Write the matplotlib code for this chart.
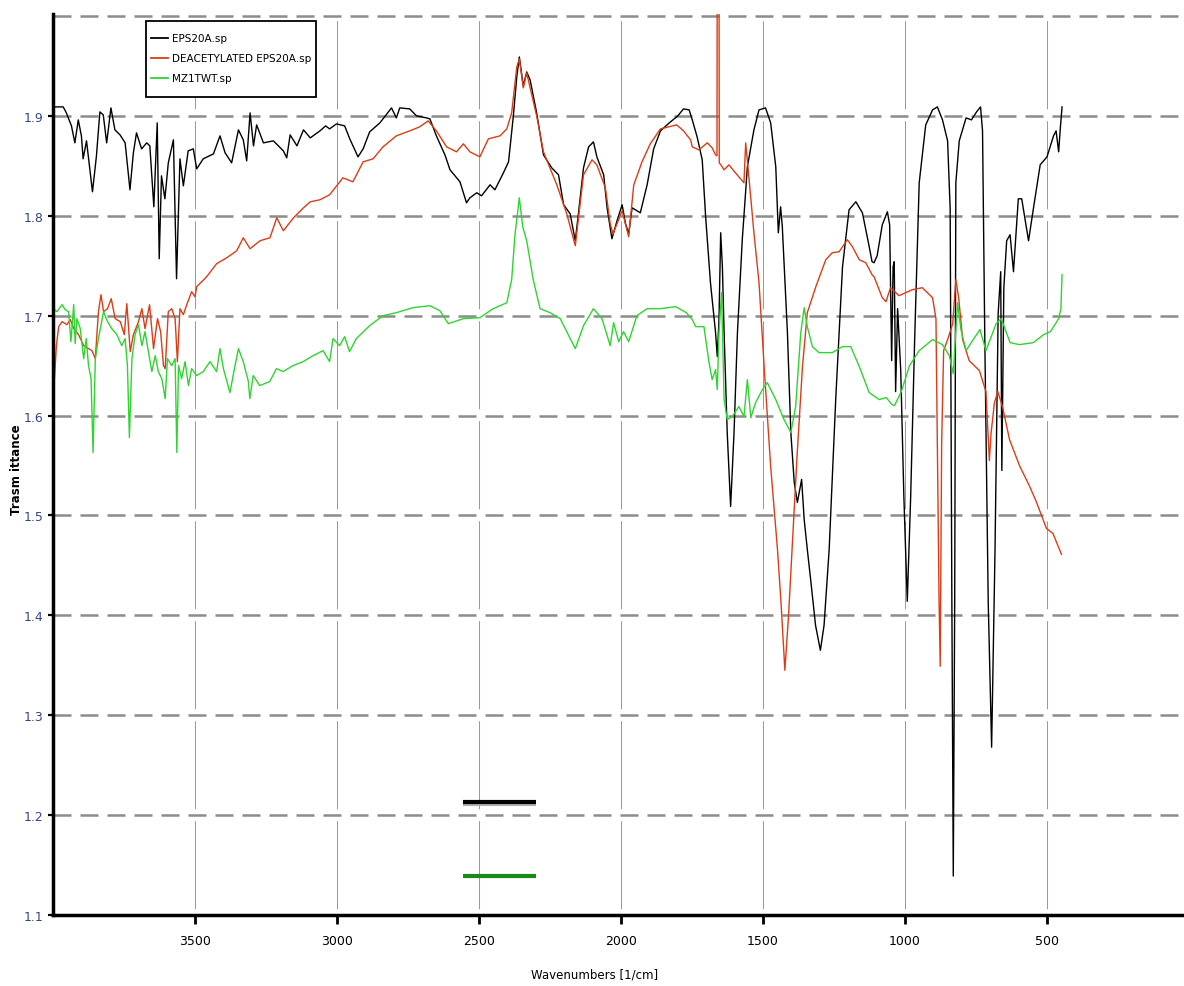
import matplotlib
matplotlib.use("Agg")
import matplotlib.pyplot as plt
from matplotlib.patches import Rectangle
from matplotlib.lines import Line2D

# ---------------- data ----------------
series_labels = ["EPS20A.sp", "DEACETYLATED EPS20A.sp", "MZ1TWT.sp"]

eps_wn = [3999, 3964, 3953, 3935, 3923, 3911, 3900, 3894, 3882, 3861, 3847, 3835, 3823, 3811,
          3796, 3782, 3764, 3746, 3729, 3717, 3706, 3688, 3670, 3659, 3645, 3633, 3626, 3618,
          3606, 3594, 3576, 3565, 3553, 3541, 3524, 3506, 3494, 3471, 3435, 3412, 3394, 3371,
          3347, 3330, 3318, 3306, 3294, 3283, 3259, 3224, 3189, 3177, 3165, 3141, 3118, 3094,
          3060, 3040, 3026, 3002, 2973, 2955, 2926, 2908, 2885, 2849, 2808, 2791, 2779, 2744,
          2720, 2685, 2673, 2650, 2620, 2602, 2567, 2544, 2532, 2508, 2491, 2461, 2444, 2414,
          2396, 2379, 2367, 2358, 2344, 2332, 2320, 2297, 2273, 2244, 2220, 2202, 2179, 2161,
          2150, 2132, 2114, 2097, 2085, 2061, 2049, 2032, 2014, 1996, 1984, 1973, 1961, 1932,
          1908, 1885, 1861, 1830, 1800, 1780, 1760, 1749, 1732, 1714, 1702, 1685, 1667, 1661,
          1655, 1649, 1643, 1637, 1626, 1614, 1602, 1590, 1573, 1555, 1532, 1514, 1491, 1473,
          1455, 1446, 1438, 1432, 1414, 1402, 1390, 1379, 1364, 1355, 1344, 1330, 1315, 1298,
          1285, 1267, 1244, 1220, 1197, 1173, 1150, 1126, 1116, 1109, 1098, 1080, 1062, 1054,
          1047, 1042, 1038, 1033, 1026, 1015, 1004, 992, 980, 966, 950, 927, 903, 886, 868, 850,
          841, 835, 830, 825, 821, 809, 785, 766, 748, 734, 727, 719, 707, 695, 683, 672, 663,
          659, 652, 642, 630, 618, 601, 589, 565, 548, 524, 500, 477, 468, 459, 453, 447]
eps_t = [1.909, 1.909, 1.903, 1.890, 1.873, 1.896, 1.880, 1.857, 1.875, 1.824, 1.860, 1.904, 1.901, 1.873,
         1.908, 1.886, 1.881, 1.873, 1.826, 1.863, 1.883, 1.867, 1.873, 1.870, 1.809, 1.893, 1.757, 1.840,
         1.817, 1.853, 1.876, 1.737, 1.857, 1.830, 1.865, 1.867, 1.847, 1.857, 1.862, 1.880, 1.863, 1.853,
         1.886, 1.876, 1.855, 1.903, 1.870, 1.891, 1.873, 1.875, 1.865, 1.858, 1.881, 1.870, 1.886, 1.878,
         1.885, 1.890, 1.887, 1.892, 1.890, 1.877, 1.859, 1.867, 1.884, 1.893, 1.908, 1.898, 1.908, 1.907,
         1.900, 1.898, 1.897, 1.880, 1.861, 1.846, 1.834, 1.813, 1.818, 1.823, 1.820, 1.831, 1.826, 1.843,
         1.854, 1.900, 1.939, 1.959, 1.930, 1.944, 1.936, 1.903, 1.861, 1.848, 1.841, 1.811, 1.802, 1.775,
         1.802, 1.848, 1.869, 1.874, 1.859, 1.841, 1.808, 1.777, 1.795, 1.811, 1.792, 1.782, 1.808, 1.803,
         1.831, 1.867, 1.885, 1.893, 1.900, 1.907, 1.906, 1.896, 1.879, 1.856, 1.799, 1.733, 1.683, 1.659,
         1.696, 1.783, 1.749, 1.683, 1.583, 1.509, 1.583, 1.683, 1.776, 1.849, 1.886, 1.906, 1.908, 1.893,
         1.849, 1.783, 1.809, 1.789, 1.683, 1.583, 1.533, 1.513, 1.536, 1.496, 1.466, 1.430, 1.390, 1.365,
         1.390, 1.466, 1.616, 1.749, 1.806, 1.814, 1.803, 1.769, 1.754, 1.753, 1.760, 1.791, 1.804, 1.791,
         1.655, 1.749, 1.754, 1.624, 1.707, 1.645, 1.519, 1.414, 1.519, 1.676, 1.833, 1.891, 1.906, 1.909, 1.896, 1.875,
         1.807, 1.414, 1.139, 1.414, 1.833, 1.875, 1.898, 1.896, 1.904, 1.909, 1.885, 1.676, 1.414, 1.268, 1.466, 1.702, 1.744,
         1.545, 1.728, 1.775, 1.781, 1.744, 1.817, 1.817, 1.775, 1.807, 1.851, 1.859, 1.880, 1.885, 1.864, 1.888, 1.909]

deac_wn = [3998, 3995, 3988, 3980, 3968, 3951, 3939, 3927, 3910, 3892, 3875, 3863, 3851, 3840,
           3831, 3822, 3808, 3795, 3781, 3763, 3749, 3740, 3728, 3717, 3699, 3687, 3676, 3660,
           3646, 3632, 3621, 3611, 3605, 3594, 3582, 3570, 3562, 3553, 3541, 3529, 3512, 3500,
           3494, 3459, 3424, 3388, 3353, 3330, 3306, 3271, 3236, 3212, 3189, 3153, 3118, 3094,
           3060, 3026, 2979, 2944, 2908, 2873, 2838, 2791, 2744, 2709, 2679, 2650, 2614, 2579,
           2555, 2532, 2497, 2467, 2426, 2402, 2385, 2367, 2358, 2344, 2332, 2297, 2273, 2226,
           2191, 2161, 2132, 2102, 2085, 2055, 2038, 2028, 2014, 1996, 1973, 1955, 1926, 1897,
           1861, 1804, 1780, 1755, 1749, 1726, 1696, 1679, 1667, 1662, 1661, 1655, 1654, 1646,
           1637, 1620, 1597, 1567, 1561, 1552, 1532, 1514, 1496, 1473, 1449, 1436, 1423, 1410,
           1395, 1380, 1361, 1344, 1314, 1279, 1256, 1232, 1203, 1185, 1161, 1138, 1116, 1109,
           1080, 1067, 1051, 1021, 974, 939, 903, 891, 886, 880, 876, 871, 864, 850, 832, 821,
           811, 797, 774, 738, 715, 703, 697, 685, 673, 656, 632, 597, 561, 538, 502, 479, 449]
deac_t = [1.630, 1.637, 1.670, 1.689, 1.694, 1.691, 1.696, 1.687, 1.681, 1.670, 1.667, 1.665, 1.657, 1.704,
          1.721, 1.704, 1.707, 1.717, 1.697, 1.694, 1.681, 1.712, 1.664, 1.681, 1.694, 1.707, 1.687, 1.711,
          1.667, 1.697, 1.684, 1.650, 1.647, 1.704, 1.707, 1.697, 1.654, 1.707, 1.701, 1.711, 1.724, 1.719,
          1.729, 1.739, 1.752, 1.758, 1.765, 1.778, 1.767, 1.775, 1.778, 1.798, 1.785, 1.798, 1.808, 1.814,
          1.816, 1.821, 1.838, 1.834, 1.854, 1.857, 1.869, 1.880, 1.885, 1.889, 1.895, 1.885, 1.869, 1.864,
          1.872, 1.864, 1.859, 1.877, 1.880, 1.887, 1.903, 1.949, 1.957, 1.928, 1.943, 1.900, 1.864, 1.831,
          1.802, 1.770, 1.841, 1.856, 1.851, 1.828, 1.792, 1.782, 1.792, 1.805, 1.779, 1.831, 1.854, 1.872,
          1.887, 1.891, 1.885, 1.876, 1.869, 1.866, 1.873, 1.868, 1.861, 1.860, 2.100, 2.100, 1.853, 1.850,
          1.846, 1.851, 1.843, 1.833, 1.873, 1.846, 1.783, 1.733, 1.649, 1.549, 1.466, 1.410, 1.345, 1.400,
          1.480, 1.560, 1.649, 1.703, 1.729, 1.756, 1.763, 1.764, 1.776, 1.769, 1.756, 1.753, 1.741, 1.739,
          1.718, 1.714, 1.728, 1.720, 1.726, 1.728, 1.718, 1.697, 1.571, 1.414, 1.349, 1.571, 1.665, 1.676, 1.692, 1.736,
          1.718, 1.676, 1.655, 1.645, 1.624, 1.555, 1.582, 1.613, 1.624, 1.608, 1.576, 1.550, 1.529, 1.514, 1.487, 1.482, 1.461]

mz_wn = [3998, 3986, 3968, 3957, 3945, 3937, 3927, 3922, 3916, 3904, 3892, 3883, 3875, 3866,
         3859, 3851, 3840, 3822, 3808, 3793, 3775, 3758, 3746, 3738, 3731, 3722, 3711, 3699,
         3687, 3676, 3664, 3652, 3640, 3629, 3617, 3605, 3597, 3582, 3570, 3564, 3558, 3547,
         3535, 3523, 3512, 3494, 3471, 3447, 3424, 3412, 3400, 3377, 3359, 3347, 3330, 3312,
         3307, 3295, 3272, 3237, 3213, 3190, 3155, 3119, 3084, 3049, 3026, 3014, 2991, 2973,
         2956, 2932, 2885, 2838, 2791, 2732, 2673, 2638, 2608, 2555, 2497, 2450, 2402, 2385,
         2373, 2358, 2346, 2332, 2309, 2285, 2250, 2214, 2191, 2161, 2132, 2097, 2067, 2038,
         2026, 2008, 1991, 1973, 1944, 1908, 1861, 1807, 1770, 1749, 1737, 1708, 1690, 1679,
         1667, 1661, 1655, 1646, 1637, 1626, 1608, 1585, 1567, 1555, 1543, 1526, 1502, 1485,
         1455, 1426, 1402, 1385, 1367, 1355, 1344, 1326, 1303, 1256, 1220, 1191, 1161, 1126,
         1091, 1066, 1046, 1037, 1013, 984, 950, 903, 868, 844, 830, 815, 803, 785, 760, 736,
         715, 679, 661, 630, 597, 548, 512, 488, 459, 451, 447]
mz_t = [1.707, 1.704, 1.711, 1.706, 1.704, 1.674, 1.711, 1.672, 1.697, 1.687, 1.657, 1.677, 1.650, 1.637,
        1.563, 1.657, 1.677, 1.704, 1.694, 1.687, 1.681, 1.670, 1.677, 1.650, 1.578, 1.657, 1.681, 1.691,
        1.670, 1.684, 1.664, 1.644, 1.660, 1.644, 1.637, 1.617, 1.657, 1.650, 1.657, 1.563, 1.650, 1.637,
        1.654, 1.630, 1.647, 1.640, 1.644, 1.654, 1.644, 1.667, 1.647, 1.623, 1.650, 1.667, 1.654, 1.634,
        1.617, 1.640, 1.630, 1.634, 1.647, 1.644, 1.650, 1.654, 1.660, 1.665, 1.654, 1.677, 1.670, 1.679,
        1.664, 1.677, 1.690, 1.700, 1.703, 1.708, 1.710, 1.705, 1.692, 1.697, 1.698, 1.707, 1.713, 1.736,
        1.782, 1.818, 1.789, 1.775, 1.736, 1.707, 1.703, 1.697, 1.684, 1.667, 1.690, 1.707, 1.697, 1.670,
        1.693, 1.674, 1.684, 1.674, 1.700, 1.707, 1.707, 1.709, 1.703, 1.696, 1.689, 1.689, 1.653, 1.636,
        1.646, 1.626, 1.683, 1.723, 1.616, 1.596, 1.599, 1.609, 1.599, 1.636, 1.598, 1.613, 1.626, 1.633,
        1.616, 1.596, 1.583, 1.609, 1.683, 1.708, 1.689, 1.669, 1.663, 1.663, 1.669, 1.669, 1.649, 1.623,
        1.616, 1.618, 1.611, 1.610, 1.624, 1.650, 1.665, 1.676, 1.671, 1.660, 1.642, 1.713, 1.686, 1.665, 1.676, 1.686,
        1.665, 1.692, 1.697, 1.673, 1.671, 1.673, 1.681, 1.684, 1.697, 1.707, 1.741]

# short marker bars drawn below the spectra
bar_wn = [2555, 2298]
bar_black_t = 1.213
bar_green_t = 1.139

x_ticks = [3500, 3000, 2500, 2000, 1500, 1000, 500, 0]
y_ticks = [1.1, 1.2, 1.3, 1.4, 1.5, 1.6, 1.7, 1.8, 1.9]
grid_levels = [1.2, 1.3, 1.4, 1.5, 1.6, 1.7, 1.8, 1.9, 2.0]

# ---------------- styling ----------------
FONT = ["Liberation Sans Narrow", "DejaVu Sans"]
C_BLACK = "#000000"
C_RED = "#dc3c16"
C_GREEN = "#2fd42f"
C_GRID = "#8c8c8c"

W, H = 1184, 987
fig = plt.figure(figsize=(W / 100, H / 100), dpi=100)
x0, x1 = 53, 1189
y_top, y_bot = 15, 916
ax = fig.add_axes([x0 / W, (H - y_bot) / H, (x1 - x0) / W, (y_bot - y_top) / H])
ax.set_xlim(4000, 0)
ax.set_ylim(1.1, 2.002)

# horizontal dashed grid
for g in grid_levels:
    ax.axhline(g, color=C_GRID, lw=1.8, linestyle=(0, (7.2, 3.6)), zorder=1)
# vertical dashed grid (gaps at the horizontal grid lines)
for xt in x_ticks[:-1]:
    ax.plot([xt, xt], [1.1, 2.002], color="#9a9a9a", lw=0.75,
            linestyle=(90.0, (84.5, 11.5)), zorder=1)

# spectra
ax.plot(eps_wn, eps_t, color=C_BLACK, lw=1.0, zorder=3)
ax.plot(deac_wn, deac_t, color=C_RED, lw=1.0, zorder=3)
ax.plot(mz_wn, mz_t, color=C_GREEN, lw=1.0, zorder=4)

# marker bars
ax.plot(bar_wn, [bar_black_t - 0.002] * 2, color="#b0b0b0", lw=3.0, zorder=2,
        solid_capstyle="butt")
ax.plot(bar_wn, [bar_black_t] * 2, color="#000000", lw=3.0, zorder=3, solid_capstyle="butt")
ax.plot(bar_wn, [bar_green_t] * 2, color="#1a8a1a", lw=3.0, zorder=3, solid_capstyle="butt")

# axes styling
for s in ("top", "right"):
    ax.spines[s].set_visible(False)
for s in ("left", "bottom"):
    ax.spines[s].set_linewidth(2.5)
    ax.spines[s].set_zorder(6)

ax.set_xticks(x_ticks)
ax.set_xticklabels([str(v) for v in x_ticks], fontfamily=FONT, fontsize=9)
ax.set_yticks(y_ticks)
ax.set_yticklabels([f"{v:.1f}" for v in y_ticks], fontfamily=FONT, fontsize=9, color="#34458c")
ax.tick_params(axis="x", direction="out", length=6.5, width=2.0, pad=7)
ax.tick_params(axis="y", direction="out", length=3.6, width=1.6, pad=3.5)

ax.set_xlabel("Wavenumbers [1/cm]", fontfamily=FONT, fontsize=8.5)
ax.xaxis.set_label_coords((595 - x0) / (x1 - x0), (y_bot - 975) / (y_bot - y_top))
ax.xaxis.label.set_va("center")
ax.set_ylabel("Trasm ittance", fontfamily=FONT, fontsize=8.5, fontweight="bold")
ax.yaxis.set_label_coords((17 - x0) / (x1 - x0), (y_bot - 470) / (y_bot - y_top))
ax.yaxis.label.set_va("center")

# legend (drawn in axes coordinates)
def ax_xy(px, py):
    return (px - x0) / (x1 - x0), (y_bot - py) / (y_bot - y_top)

lx0, ly0 = ax_xy(146, 98)
lx1, ly1 = ax_xy(316, 22)
ax.add_patch(Rectangle((lx0, ly0), lx1 - lx0, ly1 - ly0, transform=ax.transAxes,
                       facecolor="white", edgecolor="black", lw=1.3, zorder=8))
for label, color, py in zip(series_labels, [C_BLACK, C_RED, C_GREEN], [39, 59, 79]):
    ax_a, ay = ax_xy(151, py)
    ax_b, _ = ax_xy(168, py)
    ax.add_line(Line2D([ax_a, ax_b], [ay, ay], transform=ax.transAxes, color=color,
                       lw=1.3, zorder=9))
    tx, _ = ax_xy(172, py)
    ax.text(tx, ay, label, transform=ax.transAxes, fontfamily=FONT, fontsize=7.5,
            va="center", ha="left", zorder=9)

fig.savefig("out.png", dpi=100)
